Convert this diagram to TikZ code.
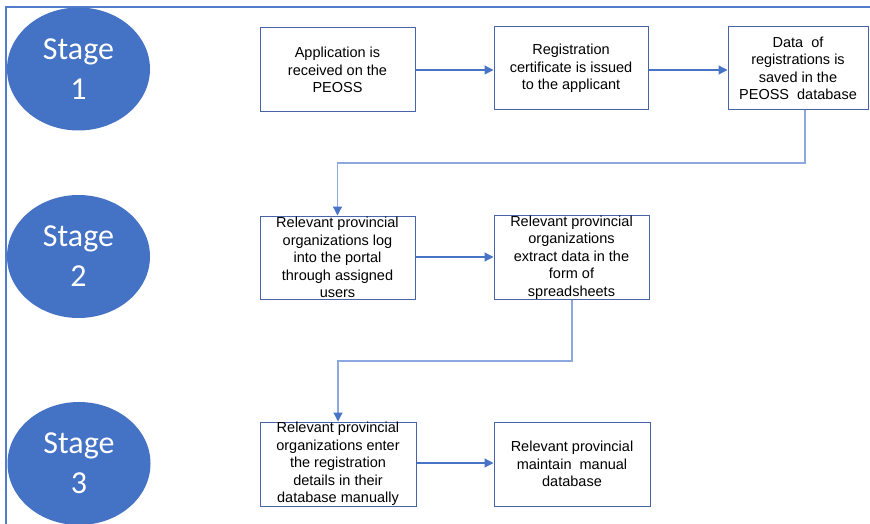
\documentclass[tikz,border=0pt]{standalone}
\usepackage{fontspec}
\setmainfont{Liberation Sans}
\newfontfamily\stagefont{Carlito}
\usetikzlibrary{arrows.meta,shapes.geometric}
\definecolor{stageblue}{RGB}{68,114,196}
\definecolor{boxblue}{RGB}{72,100,168}
\definecolor{arrowblue}{RGB}{72,116,200}
\definecolor{elbowblue}{RGB}{140,168,222}
\definecolor{frameblue}{RGB}{84,124,204}
\tikzset{
  stagecirc/.style={ellipse, fill=stageblue, minimum width=143pt, minimum height=123pt, inner sep=0pt,
    text=white, align=center, font=\stagefont\fontsize{32}{40}\selectfont},
  procbox/.style={draw=boxblue, line width=1pt, fill=white, minimum width=155pt, minimum height=83pt,
    inner sep=0pt, align=center, font=\fontsize{14.5}{17.5}\selectfont},
  flowarrow/.style={draw=arrowblue, line width=1.2pt, -{Triangle[length=9pt,width=9pt]}},
  elbowarrow/.style={draw=elbowblue, line width=1.3pt, -{Triangle[length=9pt,width=9pt,color=arrowblue]}},
}
\begin{document}
\begin{tikzpicture}[x=1pt,y=-1pt]
\useasboundingbox (0,0) rectangle (870,524);
\fill[white] (0,0) rectangle (870,524);
\draw[frameblue, line width=1.1pt] (6,530) -- (6,7) -- (875,7);

\node[stagecirc] (s1) at (78.5,69) {Stage\\1};
\node[stagecirc] (s2) at (78.5,256.5) {Stage\\2};
\node[stagecirc] (s3) at (79,463.5) {Stage\\3};

\node[procbox, minimum height=84pt] (b1) at (337.5,70) {Application is\\received on the\\PEOSS};
\node[procbox, minimum width=154pt] (b2) at (571,68.5) {Registration\\certificate is issued\\to the applicant};
\node[procbox, minimum width=140pt] (b3) at (798,68.5) {Data\ \ of\\registrations is\\saved in the\\PEOSS\ \ database};

\node[procbox] (b4) at (337.5,257.5) {Relevant provincial\\organizations log\\into the portal\\through assigned\\users};
\node[procbox] (b5) at (571.5,257.5) {Relevant provincial\\organizations\\extract data in the\\form of\\spreadsheets};

\node[procbox, minimum width=156pt, minimum height=84pt] (b6) at (338,464) {Relevant provincial\\organizations enter\\the registration\\details in their\\database manually};
\node[procbox, minimum width=156pt, minimum height=84pt] (b7) at (572,464) {Relevant provincial\\maintain\ \ manual\\database};

\coordinate (e1) at (805,163);
\coordinate (e2) at (572,361);

\draw[flowarrow] (b1.east |- 0,70) -- (b2.west |- 0,70);
\draw[flowarrow] (b2.east |- 0,70) -- (b3.west |- 0,70);
\draw[elbowarrow] (b3.south -| e1) -- (e1) -| (b4.north);
\draw[flowarrow] (b4.east |- 0,257) -- (b5.west |- 0,257);
\draw[elbowarrow] (b5.south -| e2) -- (e2) -| (b6.north);
\draw[flowarrow] (b6.east |- 0,463) -- (b7.west |- 0,463);
\end{tikzpicture}
\end{document}
